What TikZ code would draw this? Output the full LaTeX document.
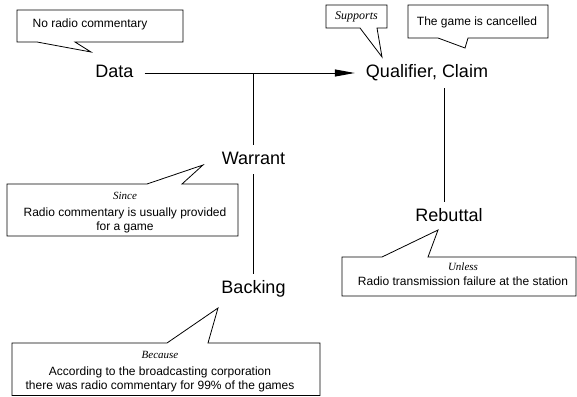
\documentclass[tikz,border=0pt]{standalone}
\usepackage{fontspec}
\setmainfont{Liberation Sans}
\newfontfamily\italicserif{Liberation Serif}
\usetikzlibrary{arrows.meta}
\newcommand{\why}[2][11]{{\italicserif\itshape\fontsize{#1}{13}\selectfont #2}}
\tikzset{
  part/.style={font=\fontsize{18}{20}\selectfont, text height=13pt, text depth=4pt, inner xsep=11pt, inner ysep=6pt, anchor=base},
  bubble/.style={draw, fill=white, line width=0.8pt},
  bubbletext/.style={font=\fontsize{12}{13.5}\selectfont, align=center, inner sep=0pt, anchor=base},
  link/.style={line width=1pt}
}
\begin{document}
\begin{tikzpicture}[x=1pt, y=-1pt]
        \useasboundingbox (0,0) rectangle (577,396);

        % Teile
        \node[part] (data) at (114.5,77.5) {Data};
        \node[part] (claim) at (427,77.5) {Qualifier, Claim};
        \node[part] (warrant) at (253.5,164) {Warrant};
        \node[part] (backing) at (253.5,293) {Backing};
        \node[part] (rebuttal) at (449,221) {Rebuttal};

        % Verbindungen
        \draw[link, -{Triangle[length=20pt, width=7pt]}] (data) -- (claim);
        \draw[link] (warrant.north) -- (warrant.north |- data.east);
        \draw[link] (warrant.south) -- (backing.north);
        \coordinate (r) at ([xshift=-5pt]rebuttal.north);
        \draw[link] (r) -- (r |- claim.south);

        % Sprechblase Data
        \draw[bubble] (17,10) -- (183,10) -- (183,42) -- (75,42) -- (91,52) -- (37,42) -- (17,42) -- cycle;
        \node[bubbletext] (datanote) at (90,28) {No radio commentary};

        % Sprechblasen Claim
        \draw[bubble] (326,5) -- (387,5) -- (387,28) -- (377,28) -- (382,57) -- (360,28) -- (326,28) -- cycle;
        \node[bubbletext] (supports) at (356.5,19.5) {\why[12]{Supports}};
        \draw[bubble] (408,5) -- (548,5) -- (548,38) -- (468,38) -- (465,48) -- (438,38) -- (408,38) -- cycle;
        \node[bubbletext] (claimnote) at (477,26) {The game is cancelled};

        % Sprechblase Warrant (Anker: letzte Zeile)
        \draw[bubble] (7,184) -- (147,184) -- (203,165) -- (182,184) -- (238,184) -- (238,236) -- (7,236) -- cycle;
        \node[bubbletext] (warrantnote) at (125,230) {\why{Since}\\[3.5pt] Radio commentary is usually provided\\ for a game};

        % Sprechblase Rebuttal
        \draw[bubble] (342,257) -- (382,257) -- (438,230) -- (428,257) -- (576,257) -- (576,296) -- (342,296) -- cycle;
        \node[bubbletext] (rebuttalnote) at (463,285.7) {\why{Unless}\\[2pt] Radio transmission failure at the station};

        % Sprechblase Backing
        \draw[bubble] (12,343) -- (167,343) -- (218,308) -- (208,343) -- (320,343) -- (320,395.5) -- (12,395.5) -- cycle;
        \node[bubbletext] (backingnote) at (160,389) {\why{Because}\\[3.5pt] According to the broadcasting corporation\\ there was radio commentary for 99\% of the games};

    \end{tikzpicture}
\end{document}
